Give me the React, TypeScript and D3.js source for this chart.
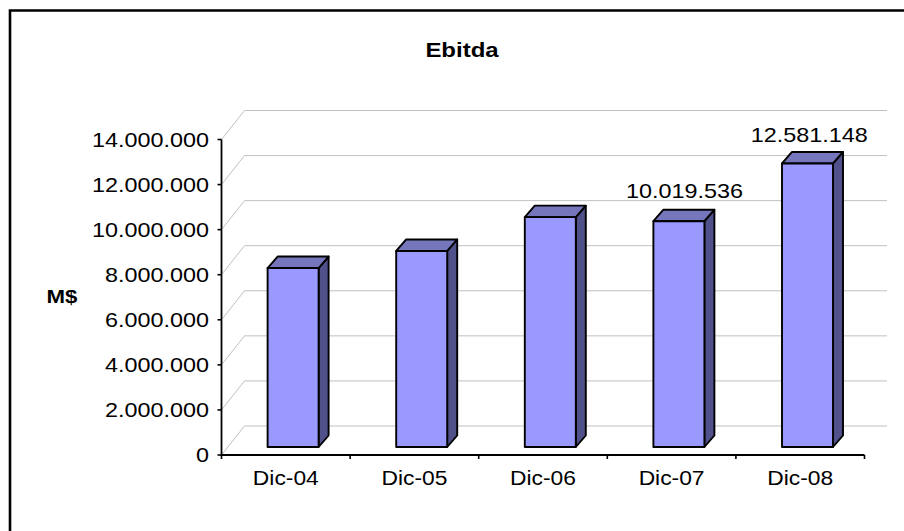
import React from "react";
import * as d3 from "d3";

const categories = ["Dic-04", "Dic-05", "Dic-06", "Dic-07", "Dic-08"];
const ebitda = [7940000, 8700000, 10200000, 10019536, 12581148];
const showLabel = [false, false, false, true, true];
const yTicks = [0, 2000000, 4000000, 6000000, 8000000, 10000000, 12000000, 14000000];

const W = 904;
const H = 531;
const FONT = "'Liberation Sans', Arial, sans-serif";
const SX = 1.17;

const fmt = (v: number) => d3.format(",")(v).replace(/,/g, ".");

function T({ x, y, anchor = "middle", size = 20, bold = false, children }: any) {
  return (
    <text
      transform={`translate(${x},${y}) scale(${SX},1)`}
      textAnchor={anchor}
      fontFamily={FONT}
      fontSize={size}
      fontWeight={bold ? "bold" : "normal"}
      fill="#000"
    >
      {children}
    </text>
  );
}

export default function App() {
  const x0 = 221.5;
  const x1 = 864.5;
  const yFront = 455;
  const yTop = 139.5;
  const wallDx = 23;
  const wallDy = 29;
  const gridEnd = 887;
  const y = d3.scaleLinear().domain([0, 14000000]).range([yFront, yTop]);
  const x = d3.scaleBand<string>().domain(categories).range([x0, x1]).paddingInner(0).paddingOuter(0);
  const barW = 51;
  const barOffset = 7.3;
  const floorLift = 8;
  const dDx = 10;
  const dDy = 11.5;

  return (
    <svg
      width={W}
      height={H}
      viewBox={`0 0 ${W} ${H}`}
      style={{ position: "absolute", left: 0, top: 0, background: "#fff" }}
    >
      <path d={`M${W},10.5H10V${H}`} fill="none" stroke="#000" strokeWidth={2.6} />

      <T x={462} y={57} size={20.5} bold>Ebitda</T>
      <T x={62} y={303} size={19} bold>M$</T>

      {yTicks.map((t) => (
        <path
          key={t}
          d={`M${x0},${y(t)}L${x0 + wallDx},${y(t) - wallDy}H${gridEnd}`}
          fill="none"
          stroke="#C0C0C0"
          strokeWidth={1}
        />
      ))}

      <path d={`M${x0},${yTop}V${yFront}H${x1}`} fill="none" stroke="#000" strokeWidth={1.8} />
      {yTicks.map((t) => (
        <g key={t}>
          <line x1={x0 - 4} x2={x0} y1={y(t)} y2={y(t)} stroke="#000" strokeWidth={1.6} />
          <T x={209} y={y(t) + 7} anchor="end" size={20}>{fmt(t)}</T>
        </g>
      ))}
      {[...categories.map((c) => x(c) as number), x1].map((v, i) => (
        <line key={i} x1={v} x2={v} y1={yFront} y2={yFront + 4} stroke="#000" strokeWidth={1.6} />
      ))}
      {categories.map((c) => (
        <T key={c} x={(x(c) as number) + x.bandwidth() / 2} y={485} size={19.5}>{c}</T>
      ))}

      {categories.map((c, i) => {
        const cx = (x(c) as number) + x.bandwidth() / 2 + barOffset;
        const l = cx - barW / 2;
        const r = cx + barW / 2;
        const b = y(0) - floorLift;
        const t = y(ebitda[i]) - floorLift;
        return (
          <g key={c} stroke="#000" strokeWidth={1.9} strokeLinejoin="round">
            <path d={`M${r},${t}L${r + dDx},${t - dDy}V${b - dDy}L${r},${b}Z`} fill="#50508A" />
            <path d={`M${l},${t}L${l + dDx},${t - dDy}H${r + dDx}L${r},${t}Z`} fill="#7676BC" />
            <rect x={l} y={t} width={barW} height={b - t} fill="#9999FF" />
          </g>
        );
      })}

      {categories.map((c, i) =>
        showLabel[i] ? (
          <T key={c} x={(x(c) as number) + x.bandwidth() / 2 + (i === 3 ? 13 : 9)} y={y(ebitda[i]) - (i === 3 ? 31 : 29)} size={20}>
            {fmt(ebitda[i])}
          </T>
        ) : null
      )}
    </svg>
  );
}
